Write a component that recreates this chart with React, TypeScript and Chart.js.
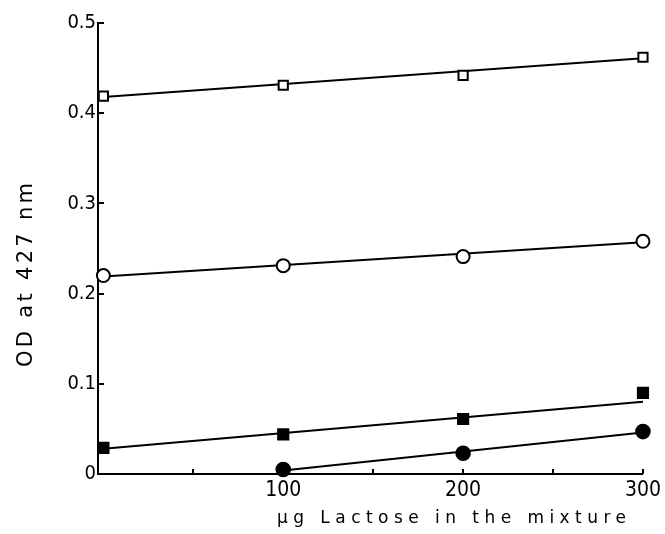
import React, { useEffect, useRef } from "react";
import { Chart, registerables } from "chart.js";

Chart.register(...registerables);

// ---- data ----
const xValues = [0, 100, 200, 300];
const openSquares = [0.419, 0.431, 0.442, 0.462];
const openCircles = [0.22, 0.231, 0.241, 0.258];
const filledSquares = [0.029, 0.044, 0.061, 0.09];
const filledCircleX = [100, 200, 300];
const filledCircles = [0.005, 0.023, 0.047];

// fitted straight lines (start / end) drawn through each series
const openSquareFitX = [0, 300];
const openSquareFit = [0.418, 0.461];
const openCircleFitX = [0, 300];
const openCircleFit = [0.219, 0.257];
const filledSquareFitX = [0, 300];
const filledSquareFit = [0.028, 0.08];
const filledCircleFitX = [100, 300];
const filledCircleFit = [0.004, 0.046];

const xTickLabels = [100, 200, 300];
const xMinorTicks = [50, 100, 150, 200, 250, 300];
const yTickValues = [0.1, 0.2, 0.3, 0.4, 0.5];

const xTitle = "\u00b5g Lactose in the mixture";
const yTitle = "OD at 427 nm";

const TICK_FONT = "'Liberation Sans Narrow', 'DejaVu Sans Condensed', 'DejaVu Sans', sans-serif";
const TITLE_FONT = "'DejaVu Sans', sans-serif";

const W = 665;
const H = 534;

const pts = (xs: number[], ys: number[]) => xs.map((x, i) => ({ x, y: ys[i] }));

const decorPlugin = {
  id: "decor",
  afterDraw(chart: any) {
    const { ctx, chartArea, scales } = chart;
    const xs = scales.x;
    const ys = scales.y;
    ctx.save();
    ctx.strokeStyle = "#000";
    ctx.lineWidth = 2;
    yTickValues.forEach((v) => {
      const py = Math.round(ys.getPixelForValue(v));
      ctx.beginPath();
      ctx.moveTo(chartArea.left, py);
      ctx.lineTo(chartArea.left + 6, py);
      ctx.stroke();
    });
    xMinorTicks.forEach((v) => {
      const px = Math.round(xs.getPixelForValue(v));
      ctx.beginPath();
      ctx.moveTo(px, chartArea.bottom);
      ctx.lineTo(px, chartArea.bottom - 5);
      ctx.stroke();
    });

    ctx.fillStyle = "#000";
    ctx.font = `17px ${TITLE_FONT}`;
    (ctx as any).letterSpacing = "0px";
    const xTarget = 349;
    const wx = ctx.measureText(xTitle).width;
    const spX = (xTarget - wx) / (xTitle.length - 1);
    (ctx as any).letterSpacing = `${spX}px`;
    ctx.textAlign = "left";
    ctx.textBaseline = "alphabetic";
    ctx.fillText(xTitle, 277, chartArea.bottom + 49);

    ctx.font = `21px ${TITLE_FONT}`;
    (ctx as any).letterSpacing = "0px";
    const yTarget = 184;
    const wy = ctx.measureText(yTitle).width;
    const spY = (yTarget - wy) / (yTitle.length - 1);
    (ctx as any).letterSpacing = `${spY}px`;
    ctx.translate(32, 275 + yTarget / 2);
    ctx.rotate(-Math.PI / 2);
    ctx.fillText(yTitle, 0, 0);
    ctx.restore();
  },
};

export default function App() {
  const ref = useRef<HTMLCanvasElement>(null);

  useEffect(() => {
    document.body.style.margin = "0";
    document.body.style.overflow = "hidden";
    document.documentElement.style.overflow = "hidden";
    if (!ref.current) return;
    const black = "#000";
    const lineDs = (xs: number[], ys: number[]) => ({
      type: "line" as const,
      data: pts(xs, ys),
      borderColor: black,
      borderWidth: 2,
      pointRadius: 0,
      showLine: true,
      fill: false,
      order: 2,
      clip: false as any,
    });
    const markerDs = (xs: number[], ys: number[], style: string, r: number, bg: string) => ({
      type: "line" as const,
      data: pts(xs, ys),
      showLine: false,
      pointStyle: style,
      pointRadius: r,
      pointBackgroundColor: bg,
      pointBorderColor: black,
      pointBorderWidth: 2,
      order: 1,
      clip: false as any,
    });

    const chart = new Chart(ref.current, {
      type: "line",
      data: {
        datasets: [
          markerDs(xValues, openSquares, "rect", 6.5, "#fff"),
          markerDs(xValues, openCircles, "circle", 6.5, "#fff"),
          markerDs(xValues, filledSquares, "rect", 7.2, black),
          markerDs(filledCircleX, filledCircles, "circle", 6.8, black),
          lineDs(openSquareFitX, openSquareFit),
          lineDs(openCircleFitX, openCircleFit),
          lineDs(filledSquareFitX, filledSquareFit),
          lineDs(filledCircleFitX, filledCircleFit),
        ] as any,
      },
      options: {
        animation: false,
        responsive: false,
        maintainAspectRatio: false,
        devicePixelRatio: 1,
        layout: { padding: { top: 23, right: 22, left: 0, bottom: 0 } },
        plugins: {
          legend: { display: false },
          tooltip: { enabled: false },
        },
        scales: {
          x: {
            type: "linear",
            min: -3,
            max: 300,
            afterBuildTicks: (s: any) => {
              s.ticks = xTickLabels.map((v) => ({ value: v }));
            },
            afterFit: (s: any) => {
              s.height = 60;
            },
            ticks: {
              color: black,
              font: { family: TICK_FONT, size: 21 },
              padding: 4,
              maxRotation: 0,
              autoSkip: false,
            },
            grid: { display: false, drawTicks: false },
            border: { display: true, color: black, width: 2 },
          },
          y: {
            type: "linear",
            min: 0,
            max: 0.5,
            afterFit: (s: any) => {
              s.width = 98;
            },
            ticks: {
              stepSize: 0.1,
              color: black,
              font: { family: TICK_FONT, size: 20 },
              padding: 2,
              callback: (v: any) => (Number(v) === 0 ? "0" : Number(v).toFixed(1)),
            },
            grid: { display: false, drawTicks: false },
            border: { display: true, color: black, width: 2 },
          },
        },
      },
      plugins: [decorPlugin],
    });
    return () => chart.destroy();
  }, []);

  return (
    <div style={{ width: W, height: H, overflow: "hidden" }}>
      <canvas
        ref={ref}
        width={W}
        height={H}
        style={{ display: "block", width: `${W}px`, height: `${H}px` }}
      />
    </div>
  );
}
